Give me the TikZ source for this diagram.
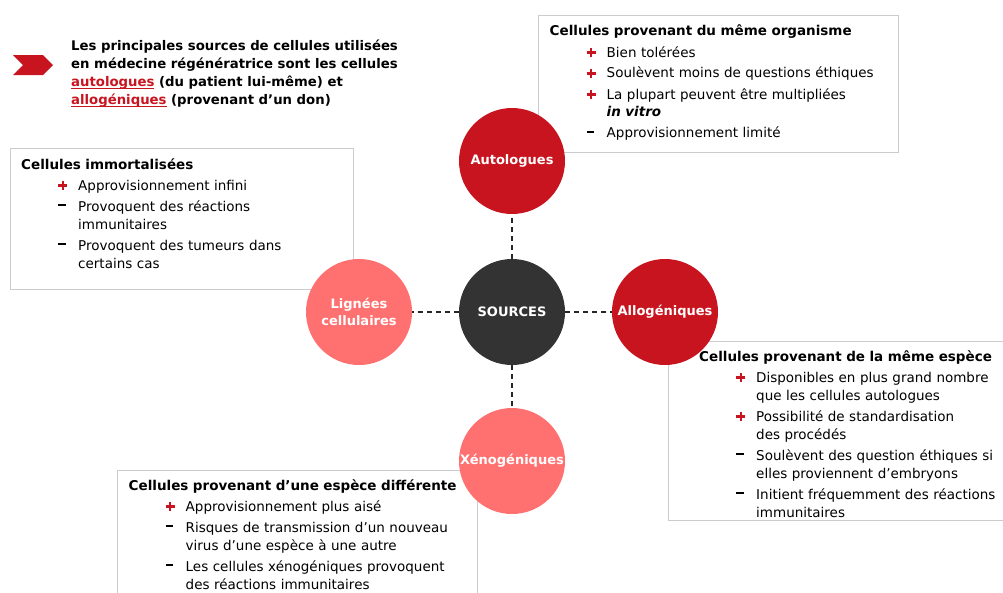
\documentclass[tikz,border=0pt]{standalone}
\usepackage{fontspec}
\setmainfont{DejaVu Sans}
\usetikzlibrary{positioning}

\definecolor{srcred}{HTML}{C8141F}
\definecolor{srcpink}{HTML}{FF7170}
\definecolor{srcdark}{HTML}{333333}
\definecolor{boxgray}{HTML}{CCCCCC}

\newcommand{\plusmark}{\textcolor{srcred}{\rule[3.3pt]{9pt}{2.4pt}\hspace{-5.7pt}\rule{2.4pt}{9pt}}}
\newcommand{\minusmark}{\rule[5.2pt]{7.5pt}{2pt}}
\newcommand{\boxhead}[1]{\textbf{#1}\par}
\newcommand{\pro}[1]{\hangindent=57pt\hspace*{37pt}\makebox[20pt][l]{\plusmark}#1\par}
\newcommand{\con}[1]{\hangindent=57pt\hspace*{37pt}\makebox[20pt][l]{\minusmark}#1\par}
\newcommand{\redul}[1]{\textcolor{srcred}{\setbox0\hbox{#1}\rlap{\rule[-2.6pt]{\wd0}{1.3pt}}\box0}}

\tikzset{
  infobox/.style={draw=boxgray,line width=1.2pt,anchor=north west,inner sep=0pt},
  infotext/.style={anchor=north west,inner sep=0pt,text width=400pt,align=left,
    font=\fontsize{13.5}{18}\selectfont,execute at begin node={\setlength{\parskip}{3pt}}},
  srccircle/.style={circle,minimum size=106pt,inner sep=0pt,text=white,align=center,
    font=\bfseries\fontsize{13}{17}\selectfont},
  link/.style={dash pattern=on 5pt off 4pt,line width=1.8pt,black!85}
}

\begin{document}
\begin{tikzpicture}[x=1pt,y=1pt]
    \clip (0,0) rectangle (1003,-592);
    % intro
    \fill[srcred] (13,-55) -- (43,-55) -- (53,-65) -- (43,-75) -- (13,-75) -- (23,-65) -- cycle;
    \node[anchor=north west,inner sep=0pt,align=left,font=\bfseries\fontsize{13.25}{18}\selectfont]
      (intro) at (71,-40) {Les principales sources de cellules utilisées\\
      en médecine régénératrice sont les cellules\\
      \redul{autologues} (du patient lui-même) et\\
      \redul{allogéniques} (provenant d’un don)};
    % boxes
    \node[infobox,minimum width=360pt,minimum height=137pt] (orgbox) at (538,-15)  {};
    \node[infobox,minimum width=343pt,minimum height=141pt] (immbox) at ( 10,-148) {};
    \node[infobox,minimum width=345pt,minimum height=179pt] (espbox) at (668,-341) {};
    \node[infobox,minimum width=360pt,minimum height=160pt] (difbox) at (117,-470) {};
    \node[infotext] (orgtext) at ([shift={(11.5,-10)}]orgbox.north west) {\boxhead{Cellules provenant du même organisme}
      \pro{Bien tolérées}
      \pro{Soulèvent moins de questions éthiques}
      \pro{La plupart peuvent être multipliées\newline\textbf{\textit{in vitro}}}
      \con{Approvisionnement limité}};
    \node[infotext] (immtext) at ([shift={(11,-10)}]immbox.north west) {\boxhead{Cellules immortalisées}
      \pro{Approvisionnement infini}
      \con{Provoquent des réactions\newline immunitaires}
      \con{Provoquent des tumeurs dans\newline certains cas}};
    \node[infotext] (esptext) at ([shift={(31,-9)}]espbox.north west) {\boxhead{Cellules provenant de la même espèce}
      \pro{Disponibles en plus grand nombre\newline que les cellules autologues}
      \pro{Possibilité de standardisation\newline des procédés}
      \con{Soulèvent des question éthiques si\newline elles proviennent d’embryons}
      \con{Initient fréquemment des réactions\newline immunitaires}};
    \node[infotext] (diftext) at ([shift={(11.5,-9)}]difbox.north west) {\boxhead{Cellules provenant d’une espèce différente}
      \pro{Approvisionnement plus aisé}
      \con{Risques de transmission d’un nouveau\newline virus d’une espèce à une autre}
      \con{Les cellules xénogéniques provoquent\newline des réactions immunitaires}};
    % circles
    \node[srccircle,fill=srcdark] (sources) at (512,-312) {SOURCES};
    \node[srccircle,fill=srcred]  (autol)   at (512,-161) {Autologues};
    \node[srccircle,fill=srcred]  (allog)   at (665,-312) {Allogéniques};
    \node[srccircle,fill=srcpink] (lignee)  at (359,-312) {Lignées\\cellulaires};
    \node[srccircle,fill=srcpink] (xeno)    at (512,-461) {Xénogéniques};
    \draw[link] (sources.north) -- (autol.south);
    \draw[link] (sources.east)  -- (allog.west);
    \draw[link] (sources.west)  -- (lignee.east);
    \draw[link] (sources.south) -- (xeno.north);
\end{tikzpicture}
\end{document}
